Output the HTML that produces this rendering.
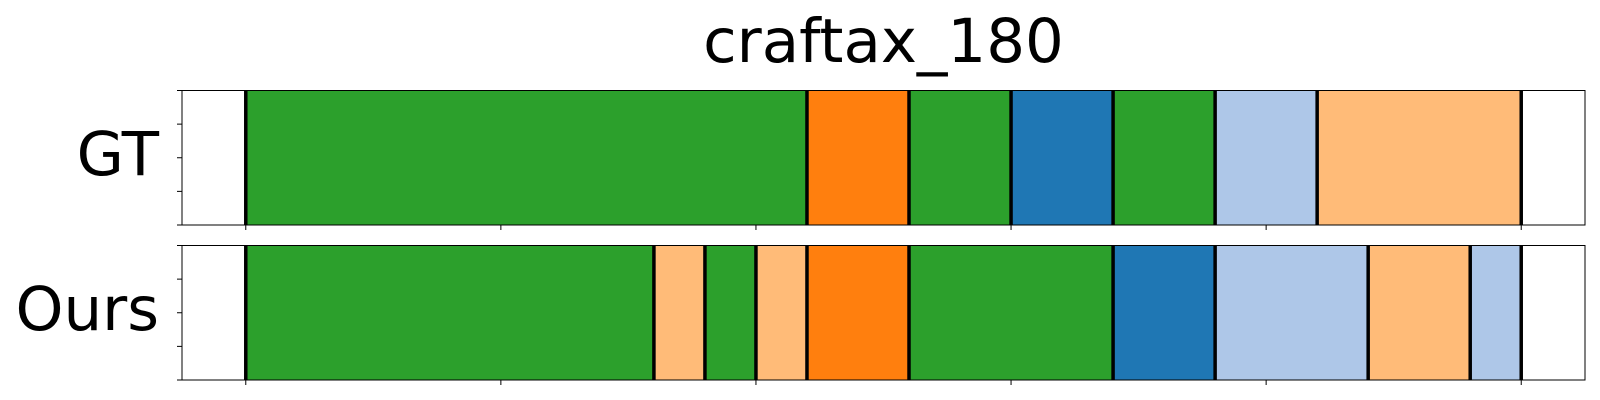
<!DOCTYPE html>
<html><head><meta charset="utf-8"><style>
html,body{margin:0;padding:0;background:#fff;overflow:hidden;}
svg{display:block;}
svg text{font-family:"DejaVu Sans","Liberation Sans",sans-serif;}
</style></head><body>
<svg id="chart" width="1600" height="400" viewBox="0 0 1600 400" xmlns="http://www.w3.org/2000/svg">
<text x="883.5" y="62" font-size="61" text-anchor="middle" fill="#000">craftax_180</text>
<g id="plots"></g>
</svg>
<script>
const rowLabels = ["GT", "Ours"];
const gtBounds = [0, 11, 13, 15, 17, 19, 21, 25];
const gtColors = ["#2ca02c", "#ff7f0e", "#2ca02c", "#1f77b4", "#2ca02c", "#aec7e8", "#ffbb78"];
const oursBounds = [0, 8, 9, 10, 11, 13, 17, 19, 22, 24, 25];
const oursColors = ["#2ca02c", "#ffbb78", "#2ca02c", "#ffbb78", "#ff7f0e", "#2ca02c", "#1f77b4", "#aec7e8", "#ffbb78", "#aec7e8"];
const xTicks = [0, 5, 10, 15, 20, 25];

const NS = "http://www.w3.org/2000/svg";
const g = document.getElementById("plots");
const xMin = -1.25, xMax = 26.25, left = 182, right = 1585;
const xs = v => left + (v - xMin) / (xMax - xMin) * (right - left);
const panels = [{top: 90.5, bounds: gtBounds, colors: gtColors, base: 175}, {top: 245.5, bounds: oursBounds, colors: oursColors, base: 330}];
const H = 134.5;
function mk(tag, attrs){const e=document.createElementNS(NS,tag);for(const k in attrs)e.setAttribute(k,attrs[k]);g.appendChild(e);return e;}
panels.forEach((p, pi) => {
  for (let i = 0; i < p.colors.length; i++) {
    const r = mk("rect", {x: xs(p.bounds[i]), y: p.top, width: xs(p.bounds[i+1]) - xs(p.bounds[i]), height: H, fill: p.colors[i]});
    
    
  }
  p.bounds.forEach((b, i) => {
    const l = mk("line", {x1: xs(b), x2: xs(b), y1: p.top, y2: p.top + H, stroke: "#000", "stroke-width": 3.5});
    
    
  });
  const f = mk("rect", {x: left, y: p.top, width: right - left, height: H, fill: "none", stroke: "#000", "stroke-width": 1});
  
  
  for (let k = 0; k <= 4; k++) {
    const y = p.top + k * H / 4;
    const t = mk("line", {x1: left - 5, x2: left, y1: y, y2: y, stroke: "#000", "stroke-width": 1});
    
    
  }
  xTicks.forEach(v => {
    const t = mk("line", {x1: xs(v), x2: xs(v), y1: p.top + H, y2: p.top + H + 5, stroke: "#000", "stroke-width": 1});
    
    
  });
  const lab = mk("text", {x: 159, y: p.base, "font-size": 61, "text-anchor": "end", fill: "#000"});
  lab.textContent = rowLabels[pi];
  
  
});
</script>
</body></html>
